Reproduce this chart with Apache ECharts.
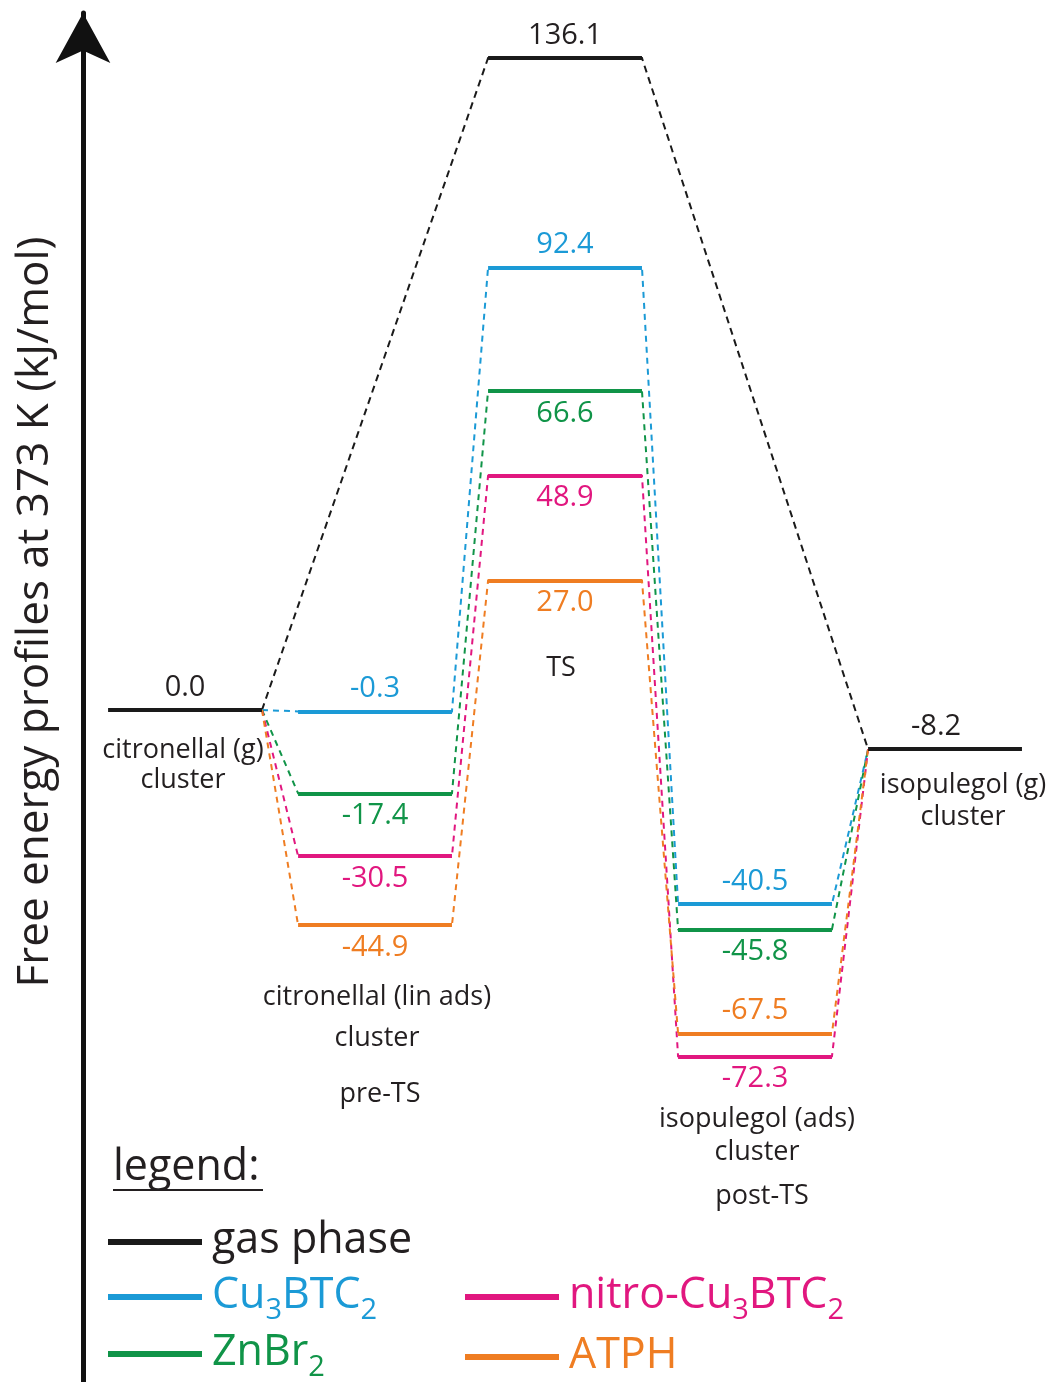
<!DOCTYPE html>
<html><head><meta charset="utf-8">
<script src="https://cdn.jsdelivr.net/npm/echarts@6/dist/echarts.min.js"></script>
<style>html,body{margin:0;padding:0;background:#fff}#c{width:1048px;height:1382px}</style>
</head><body><div id="c"></div>
<script>
// ---- data ----
const stateIndex = [0, 1, 2, 3, 4]; // citronellal(g), pre-TS, TS, post-TS, isopulegol(g)
const gasPhase = [0.0, 136.1, -8.2];          // states 0, 2, 4
const cu3btc2 = [-0.3, 92.4, -40.5];          // states 1, 2, 3
const znbr2 = [-17.4, 66.6, -45.8];
const nitroCu3btc2 = [-30.5, 48.9, -72.3];
const atph = [-44.9, 27.0, -67.5];
const seriesNames = ['gas phase', 'Cu3BTC2', 'ZnBr2', 'nitro-Cu3BTC2', 'ATPH'];

// ---- style ----
const FONT = 'Open Sans';
const TXT = '#231f20';
const colors = ['#1a1a1a', '#1b9ad6', '#109448', '#e1177f', '#ef7d22'];
const HW = 0.405; // half width of a level in state units
const labelSides = [
  ['top', 'top', 'top'],
  ['top', 'top', 'top'],
  ['bottom', 'bottom', 'bottom'],
  ['bottom', 'bottom', 'bottom'],
  ['bottom', 'bottom', 'top']
];

const materials = [cu3btc2, znbr2, nitroCu3btc2, atph];
const series = [];

function levelSeg(s, v) { return { coords: [[s - HW, v], [s + HW, v]] }; }

// dashed connectors
series.push({
  type: 'lines', name: 'gas-conn', coordinateSystem: 'cartesian2d', polyline: true, z: 2,
  lineStyle: { color: colors[0], width: 2, type: [7, 5], opacity: 1 },
  data: [{ coords: [[stateIndex[0] + HW, gasPhase[0]], [stateIndex[2] - HW, gasPhase[1]], [stateIndex[2] + HW, gasPhase[1]], [stateIndex[4] - HW, gasPhase[2]]] }]
});
materials.forEach((m, i) => {
  series.push({
    type: 'lines', name: seriesNames[i + 1] + '-conn', coordinateSystem: 'cartesian2d', polyline: true, z: 2,
    lineStyle: { color: colors[i + 1], width: 2, type: [6, 5], opacity: 1 },
    data: [{ coords: [
      [stateIndex[0] + HW, gasPhase[0]],
      [stateIndex[1] - HW, m[0]], [stateIndex[1] + HW, m[0]],
      [stateIndex[2] - HW, m[1]], [stateIndex[2] + HW, m[1]],
      [stateIndex[3] - HW, m[2]], [stateIndex[3] + HW, m[2]],
      [stateIndex[4] - HW, gasPhase[2]]
    ] }]
  });
});
// solid levels
series.push({
  type: 'lines', name: seriesNames[0], coordinateSystem: 'cartesian2d', z: 5,
  lineStyle: { color: colors[0], width: 4, opacity: 1 }, itemStyle: { color: colors[0] },
  data: [levelSeg(stateIndex[0], gasPhase[0]), levelSeg(stateIndex[2], gasPhase[1]), levelSeg(stateIndex[4], gasPhase[2])]
});
materials.forEach((m, i) => {
  series.push({
    type: 'lines', name: seriesNames[i + 1], coordinateSystem: 'cartesian2d', z: 5,
    lineStyle: { color: colors[i + 1], width: 4, opacity: 1 }, itemStyle: { color: colors[i + 1] },
    data: [levelSeg(stateIndex[1], m[0]), levelSeg(stateIndex[2], m[1]), levelSeg(stateIndex[3], m[2])]
  });
});
// value labels
function labelSeries(name, color, states, vals, sides) {
  return {
    type: 'scatter', name: name + '-labels', symbolSize: 0, z: 6,
    itemStyle: { color: color, opacity: 1 },
    emphasis: { disabled: true },
    data: vals.map((v, k) => ({
      value: [states[k], v],
      label: { position: sides[k], offset: (states[k] === 4 ? [-9, 0] : [0, 0]) }
    })),
    label: {
      show: true, distance: 8, color: color, opacity: 1, fontFamily: FONT, fontSize: 29,
      formatter: p => p.value[1].toFixed(1)
    }
  };
}
series.push(labelSeries(seriesNames[0], TXT, [0, 2, 4], gasPhase, labelSides[0]));
materials.forEach((m, i) => series.push(labelSeries(seriesNames[i + 1], colors[i + 1], [1, 2, 3], m, labelSides[i + 1])));

// legend rich text
const rich = {};
['k', 'b', 'g', 'm', 'o'].forEach((key, i) => {
  rich[key] = { color: i === 0 ? TXT : colors[i], fontFamily: FONT, fontSize: 43, lineHeight: 46, verticalAlign: 'top', padding: [0, 0, 0, 0] };
  rich[key + 's'] = { color: i === 0 ? TXT : colors[i], fontFamily: FONT, fontSize: 29, lineHeight: 30, verticalAlign: 'top', padding: [22, 0, 0, 0] };
});
const legendFmt = {
  'gas phase': '{k|gas phase}',
  'Cu3BTC2': '{b|Cu}{bs|3}{b|BTC}{bs|2}',
  'ZnBr2': '{g|ZnBr}{gs|2}',
  'nitro-Cu3BTC2': '{m|nitro-Cu}{ms|3}{m|BTC}{ms|2}',
  'ATPH': '{o|ATPH}'
};
function mkLegend(name, left, top) {
  return {
    data: [name], left: left, top: top, orient: 'horizontal', icon: 'rect',
    itemWidth: 92, itemHeight: 4, padding: 0,
    selectedMode: false,
    formatter: n => legendFmt[n],
    textStyle: { rich: rich, padding: [0, 0, 0, 6] }
  };
}

const stateTexts = [
  ['citronellal (g)', 183, 750], ['cluster', 183, 780],
  ['isopulegol (g)', 963, 785], ['cluster', 963, 817],
  ['citronellal (lin ads)', 377, 997], ['cluster', 377, 1038], ['pre-TS', 380, 1094],
  ['TS', 561, 668],
  ['isopulegol (ads)', 757, 1119], ['cluster', 757, 1152], ['post-TS', 762, 1196]
];
const graphic = stateTexts.map(t => ({
  type: 'text', x: t[1], y: t[2], z: 10,
  style: { text: t[0], fill: TXT, fontFamily: FONT, fontSize: 27, align: 'center', verticalAlign: 'middle' }
}));
graphic.push({
  type: 'text', x: 35, y: 612, rotation: Math.PI / 2, z: 10,
  style: { text: 'Free energy profiles at 373 K (kJ/mol)', fill: TXT, fontFamily: FONT, fontSize: 44, align: 'center', verticalAlign: 'middle' }
});
graphic.push({
  type: 'text', x: 113, y: 1168, z: 10,
  style: { text: 'legend:', fill: TXT, fontFamily: FONT, fontSize: 43, align: 'left', verticalAlign: 'middle' }
});
graphic.push({
  type: 'line', z: 10, shape: { x1: 113, y1: 1190, x2: 263, y2: 1190 }, style: { stroke: TXT, lineWidth: 2 }
});

const chart = echarts.init(document.getElementById('c'), null, { renderer: 'canvas' });
chart.setOption({
  backgroundColor: '#fff',
  animation: false,
  grid: { left: 83, right: 0, top: 13, bottom: 0 },
  xAxis: { type: 'value', min: -0.537, max: 4.542, show: false },
  yAxis: {
    type: 'value', min: -140.3, max: 145.5,
    axisLine: { show: true, onZero: false, symbol: ['none', 'arrow'], symbolSize: [41, 50], lineStyle: { color: '#111', width: 5 } },
    axisTick: { show: false }, axisLabel: { show: false }, splitLine: { show: false }
  },
  legend: [
    mkLegend('gas phase', 108, 1219),
    mkLegend('Cu3BTC2', 108, 1274),
    mkLegend('ZnBr2', 108, 1331),
    mkLegend('nitro-Cu3BTC2', 465, 1274),
    mkLegend('ATPH', 465, 1334)
  ],
  graphic: graphic,
  series: series
});
</script></body></html>
